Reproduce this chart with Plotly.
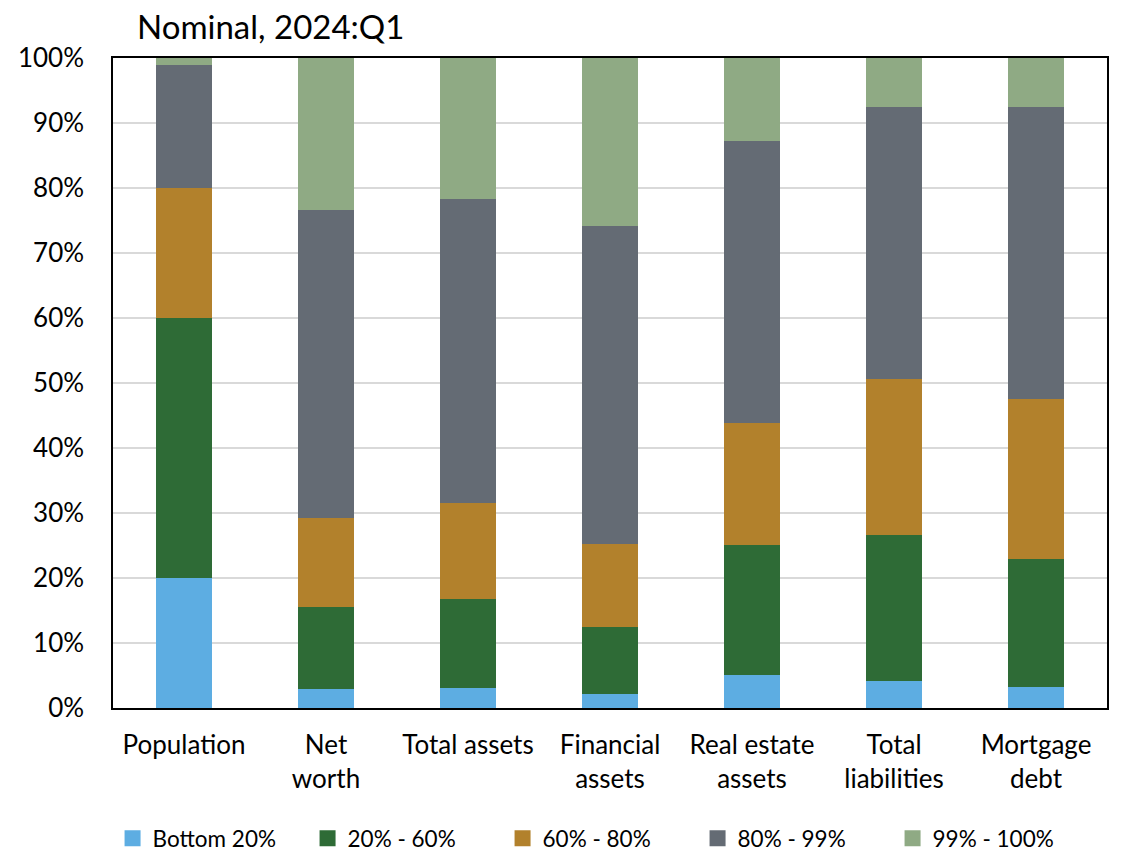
import plotly.graph_objects as go

categories = ["Population", "Net<br>worth", "Total assets", "Financial<br>assets",
              "Real estate<br>assets", "Total<br>liabilities", "Mortgage<br>debt"]

bottom_20 = [20.0, 2.9, 3.1, 2.2, 5.1, 4.2, 3.2]
p20_60 = [40.0, 12.6, 13.7, 10.3, 20.0, 22.4, 19.8]
p60_80 = [20.0, 13.7, 14.8, 12.7, 18.7, 24.0, 24.5]
p80_99 = [19.0, 47.4, 46.7, 48.9, 43.4, 41.9, 45.0]
p99_100 = [1.0, 23.4, 21.7, 25.9, 12.8, 7.5, 7.5]

series = [
    ("Bottom 20%", bottom_20, "#5DADE2"),
    ("20% - 60%", p20_60, "#2E6B36"),
    ("60% - 80%", p60_80, "#B2812C"),
    ("80% - 99%", p80_99, "#646B74"),
    ("99% - 100%", p99_100, "#8FAA84"),
]

fig = go.Figure()
for name, vals, color in series:
    fig.add_trace(go.Bar(
        x=categories, y=vals, name=name, showlegend=False,
        marker=dict(color=color, line=dict(width=0)),
    ))
# legend entries with bigger square swatches
for name, vals, color in series:
    fig.add_trace(go.Scatter(
        x=[None], y=[None], name=name, mode="markers",
        marker=dict(symbol="square", size=16, color=color),
    ))

# the page has an 8px body margin, so everything is shifted by 8px
font = "Lato, 'Open Sans', sans-serif"
fig.update_layout(
    barmode="stack",
    bargap=0.6,
    width=1122, height=855,
    margin=dict(l=105, r=23, t=50, b=155, autoexpand=False),
    plot_bgcolor="white",
    paper_bgcolor="white",
    font=dict(family=font, size=26, color="black"),
    title=dict(text="Nominal, 2024:Q1", x=129 / 1122, xanchor="left",
               yref="container", y=1 - 19 / 855, yanchor="middle",
               font=dict(size=33, color="black")),
    legend=dict(orientation="h", x=0.49, xanchor="center", y=-0.201, yanchor="middle",
                font=dict(size=22.5), traceorder="normal", itemwidth=30,
                entrywidth=150, entrywidthmode="pixels"),
    xaxis=dict(showline=True, linecolor="black", linewidth=1.5, mirror=True,
               tickfont=dict(size=26), automargin=False, ticklabelstandoff=13),
    yaxis=dict(range=[0, 100], dtick=10, ticksuffix="%", showgrid=True,
               gridcolor="#D9D9D9", gridwidth=1.5, showline=True, linecolor="black",
               linewidth=1.5, mirror=True, tickfont=dict(size=26), ticks="",
               automargin=False, ticklabelstandoff=22),
)

fig.write_html("out.html")
